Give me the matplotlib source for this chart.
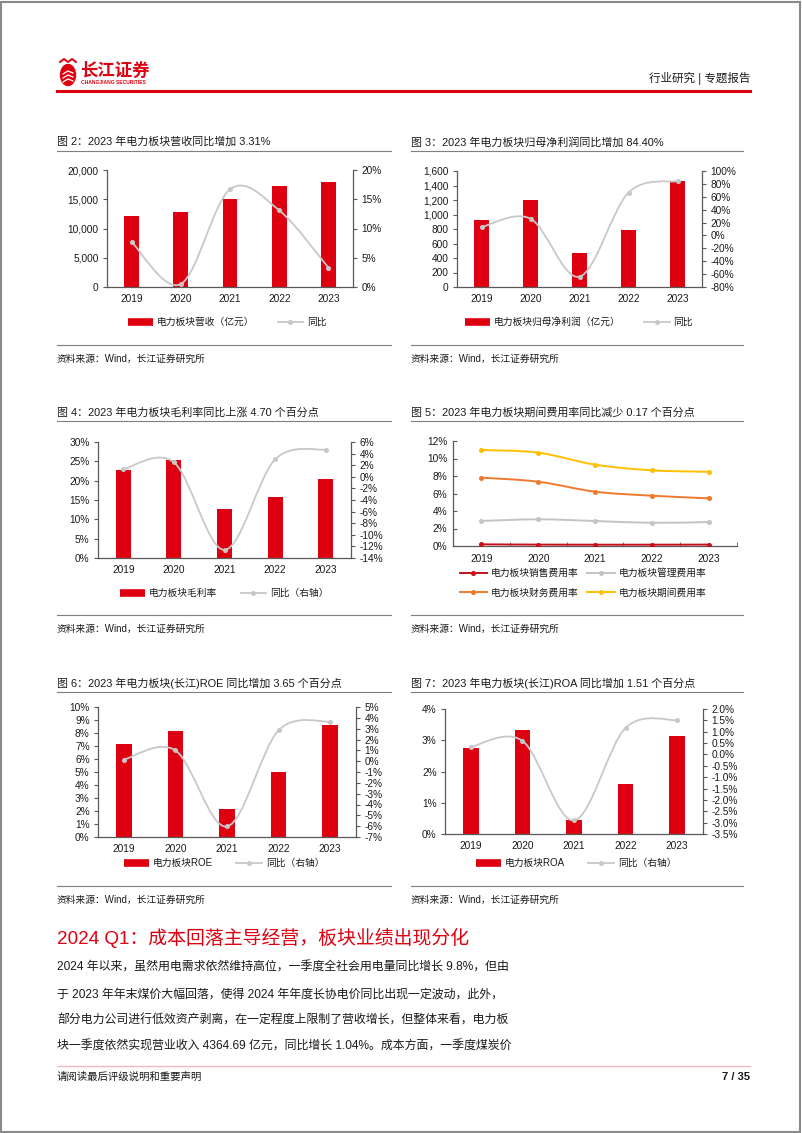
import numpy as np
import matplotlib
matplotlib.use('Agg')
import matplotlib.pyplot as plt
from matplotlib.path import Path
from matplotlib.patches import PathPatch, Rectangle, Ellipse
from matplotlib.lines import Line2D
from matplotlib.ticker import FuncFormatter, FixedLocator

plt.rcParams['font.family'] = ['Liberation Sans', 'Noto Sans CJK SC']
plt.rcParams['axes.unicode_minus'] = False

# ---------------- data ----------------
years = ['2019', '2020', '2021', '2022', '2023']

revenue = [12171, 12743, 15086, 17314, 17886]        # 亿元
revenue_yoy = [7.7, 0.5, 16.7, 13.1, 3.31]            # %

net_profit = [931, 1203, 475, 793, 1462]              # 亿元
net_profit_yoy = [13, 26, -64, 66.5, 84.4]            # %

gross_margin = [22.8, 25.3, 12.7, 15.7, 20.5]         # %
gross_margin_yoy = [1.3, 2.5, -12.6, 3.0, 4.7]        # pct

sell_rate = [0.19, 0.16, 0.15, 0.15, 0.16]
mgmt_rate = [2.86, 3.05, 2.86, 2.65, 2.74]
fin_rate = [7.81, 7.35, 6.21, 5.75, 5.45]
period_rate = [10.97, 10.67, 9.30, 8.65, 8.48]

roe = [7.18, 8.18, 2.15, 5.00, 8.64]
roe_yoy = [0.14, 1.00, -6.03, 2.85, 3.65]

roa = [2.74, 3.33, 0.44, 1.61, 3.13]
roa_yoy = [0.33, 0.60, -2.90, 1.17, 1.51]

RED = '#DE0010'
GRAY = '#C8C8C8'
AXC = '#595959'
TXT = '#1a1a1a'
TICK_FS = 7.3
LEG_FS = 7.0

W, H = 802, 1133
fig = plt.figure(figsize=(W / 100, H / 100), dpi=100)


def fx(x):
    return x / W


def fy(y):
    return 1 - y / H


def box(x0, y0, x1, y1):
    return [x0 / W, 1 - y1 / H, (x1 - x0) / W, (y1 - y0) / H]


def hline(x0, x1, y, color, lw):
    fig.add_artist(Line2D([fx(x0), fx(x1)], [fy(y), fy(y)],
                          transform=fig.transFigure, color=color, lw=lw))


def txt(x, y, s, **kw):
    kw.setdefault('color', TXT)
    fig.text(fx(x), fy(y), s, va='center', **kw)


def smooth(ax, y, color, lw=1.3, ms=2.6):
    # excel style smoothed line: bezier through the points
    x = np.arange(len(y))
    pts = np.column_stack([x, y]).astype(float)
    n = len(pts)
    verts = [pts[0]]
    codes = [Path.MOVETO]
    for i in range(n - 1):
        p0 = pts[i - 1] if i > 0 else pts[i]
        p3 = pts[i + 2] if i + 2 < n else pts[i + 1]
        verts += [pts[i] + (pts[i + 1] - p0) / 6,
                  pts[i + 1] - (p3 - pts[i]) / 6,
                  pts[i + 1]]
        codes += [Path.CURVE4] * 3
    ax.add_patch(PathPatch(Path(verts, codes), fill=False, edgecolor=color,
                           lw=lw, zorder=3, capstyle='round'))
    ax.plot(x, y, 'o', color=color, ms=ms, zorder=4)


def bar_chart(rect, vals, yoy, lim, ticks, fmt, lim2, ticks2, fmt2):
    ax = fig.add_axes(box(*rect))
    ax.bar(np.arange(5), vals, width=0.3, color=RED, zorder=2)
    ax.set_xlim(-0.5, 4.5)
    ax.set_ylim(*lim)
    ax.yaxis.set_major_locator(FixedLocator(ticks))
    ax.yaxis.set_major_formatter(FuncFormatter(fmt))
    ax.set_xticks(range(5))
    ax.set_xticklabels(years)
    ax2 = ax.twinx()
    ax2.set_ylim(*lim2)
    ax2.yaxis.set_major_locator(FixedLocator(ticks2))
    ax2.yaxis.set_major_formatter(FuncFormatter(fmt2))
    smooth(ax2, yoy, GRAY)
    for a in (ax, ax2):
        a.patch.set_visible(False)
        for s in a.spines.values():
            s.set_visible(False)
    ax.spines['left'].set_visible(True)
    ax.spines['bottom'].set_visible(True)
    ax2.spines['right'].set_visible(True)
    for s in (ax.spines['left'], ax.spines['bottom'], ax2.spines['right']):
        s.set_color(AXC)
        s.set_linewidth(0.9)
    ax.tick_params(axis='x', length=0, labelsize=TICK_FS, pad=5, labelcolor=TXT)
    ax.tick_params(axis='y', length=3, direction='out', color=AXC,
                   labelsize=TICK_FS, pad=3, labelcolor=TXT)
    ax2.tick_params(axis='y', length=3, direction='out', color=AXC,
                    labelsize=TICK_FS, pad=3, labelcolor=TXT)
    return ax


def bar_legend(x, y, label1, label2):
    h = [Line2D([], [], color=RED, lw=5.5, solid_capstyle='butt'),
         Line2D([], [], color=GRAY, lw=1.3, marker='o', ms=2.6)]
    fig.legend(h, [label1, label2], loc='center', bbox_to_anchor=(fx(x), fy(y)),
               ncol=2, frameon=False, fontsize=LEG_FS, handlelength=2.6,
               columnspacing=2.4, handletextpad=0.4, labelcolor=TXT)


def frame(x0, x1, ytitle, yline, ysrc_line, ysrc, title):
    txt(x0, ytitle, title, fontsize=7.9)
    hline(x0, x1, yline, '#7f7f7f', 0.8)
    hline(x0, x1, ysrc_line, '#7f7f7f', 0.8)
    txt(x0, ysrc, '资料来源：Wind，长江证券研究所', fontsize=7.0)


def pct0(v, p):
    return f'{v:.0f}%'


# ---------------- header ----------------
fig.add_artist(Rectangle((0.001, 0.001), 0.997, 0.997, transform=fig.transFigure,
                         fill=False, edgecolor='#8a8a8a', lw=1.5))
fig.add_artist(Ellipse((fx(68), fy(75)), 15 / W, 21 / H, transform=fig.transFigure,
                       color=RED))
for dy in (-4, 0, 4):
    fig.add_artist(Line2D([fx(63), fx(68), fx(73)], [fy(75 + dy + 3), fy(75 + dy), fy(75 + dy + 2)],
                          transform=fig.transFigure, color='white', lw=0.9))
fig.add_artist(Line2D([fx(60), fx(64), fx(68), fx(72), fx(76)],
                      [fy(62), fy(59), fy(62), fy(59), fy(62)],
                      transform=fig.transFigure, color=RED, lw=1.4))
txt(80, 70, '长江证券', fontsize=12.5, fontweight='bold', color=RED)
txt(81, 83, 'CHANGJIANG SECURITIES', fontsize=3.6, fontweight='bold', color=RED)
txt(750, 78, '行业研究 | 专题报告', fontsize=8.3, ha='right')
hline(57, 750, 91, RED, 2.2)

# ---------------- figure 2 ----------------
frame(57, 391, 142, 151, 345, 359, '图 2：2023 年电力板块营收同比增加 3.31%')
bar_chart((107, 170, 353, 287), revenue, revenue_yoy, (0, 20000),
          [0, 5000, 10000, 15000, 20000], lambda v, p: f'{v:,.0f}',
          (0, 20), [0, 5, 10, 15, 20], pct0)
bar_legend(227, 322, '电力板块营收（亿元）', '同比')

# ---------------- figure 3 ----------------
frame(411, 743, 142, 151, 345, 359, '图 3：2023 年电力板块归母净利润同比增加 84.40%')
bar_chart((457, 171, 702, 287), net_profit, net_profit_yoy, (0, 1600),
          list(range(0, 1601, 200)), lambda v, p: f'{v:,.0f}',
          (-80, 100), list(range(-80, 101, 20)), pct0)
bar_legend(579, 322, '电力板块归母净利润（亿元）', '同比')

# ---------------- figure 4 ----------------
frame(57, 391, 413, 421, 615, 629, '图 4：2023 年电力板块毛利率同比上涨 4.70 个百分点')
bar_chart((98, 442, 351, 558), gross_margin, gross_margin_yoy, (0, 30),
          list(range(0, 31, 5)), pct0,
          (-14, 6), list(range(-14, 7, 2)), pct0)
bar_legend(224, 593, '电力板块毛利率', '同比（右轴）')

# ---------------- figure 5 ----------------
frame(411, 743, 413, 421, 615, 629, '图 5：2023 年电力板块期间费用率同比减少 0.17 个百分点')
ax5 = fig.add_axes(box(453, 441, 737, 546))
c_sell, c_mgmt, c_fin, c_per = '#C8101C', '#C4C4C4', '#EE7A2E', '#FFC000'
for vals, c in ((mgmt_rate, c_mgmt), (fin_rate, c_fin), (period_rate, c_per), (sell_rate, c_sell)):
    smooth(ax5, vals, c, lw=1.4, ms=2.6)
ax5.set_xlim(-0.5, 4.5)
ax5.set_ylim(0, 12)
ax5.yaxis.set_major_locator(FixedLocator(list(range(0, 13, 2))))
ax5.yaxis.set_major_formatter(FuncFormatter(pct0))
ax5.set_xticks(range(5))
ax5.set_xticklabels(years)
ax5.set_xticks(np.arange(-0.5, 5, 1), minor=True)
for s in ('top', 'right'):
    ax5.spines[s].set_visible(False)
for s in ('left', 'bottom'):
    ax5.spines[s].set_color(AXC)
    ax5.spines[s].set_linewidth(0.9)
ax5.patch.set_visible(False)
ax5.tick_params(axis='x', which='major', length=0, labelsize=TICK_FS, pad=6, labelcolor=TXT)
ax5.tick_params(axis='x', which='minor', length=3, direction='in', color=AXC)
ax5.tick_params(axis='y', length=3, direction='in', color=AXC, labelsize=TICK_FS, pad=4,
                labelcolor=TXT)
h5 = [Line2D([], [], color=c, lw=1.4, marker='o', ms=2.6) for c in (c_sell, c_fin, c_mgmt, c_per)]
fig.legend(h5, ['电力板块销售费用率', '电力板块财务费用率', '电力板块管理费用率', '电力板块期间费用率'],
           loc='center', bbox_to_anchor=(fx(583), fy(583)), ncol=2, frameon=False,
           fontsize=LEG_FS, handlelength=2.8, columnspacing=0.9, handletextpad=0.4,
           labelspacing=1.0, labelcolor=TXT)

# ---------------- figure 6 ----------------
frame(57, 391, 683, 692, 886, 900, '图 6：2023 年电力板块(长江)ROE 同比增加 3.65 个百分点')
bar_chart((98, 707, 356, 837), roe, roe_yoy, (0, 10),
          list(range(0, 11)), pct0,
          (-7, 5), list(range(-7, 6)), pct0)
bar_legend(224, 863, '电力板块ROE', '同比（右轴）')

# ---------------- figure 7 ----------------
frame(411, 743, 683, 692, 886, 900, '图 7：2023 年电力板块(长江)ROA 同比增加 1.51 个百分点')
bar_chart((445, 709, 703, 834), roa, roa_yoy, (0, 4),
          list(range(0, 5)), pct0,
          (-3.5, 2.0), list(np.arange(-3.5, 2.01, 0.5)), lambda v, p: f'{v:.1f}%')
bar_legend(576, 863, '电力板块ROA', '同比（右轴）')

# ---------------- text body ----------------
txt(57, 938, '2024 Q1：成本回落主导经营，板块业绩出现分化', fontsize=13.6, color=RED)
body = [
    '2024 年以来，虽然用电需求依然维持高位，一季度全社会用电量同比增长 9.8%，但由',
    '于 2023 年年末煤价大幅回落，使得 2024 年年度长协电价同比出现一定波动，此外，',
    '部分电力公司进行低效资产剥离，在一定程度上限制了营收增长，但整体来看，电力板',
    '块一季度依然实现营业收入 4364.69 亿元，同比增长 1.04%。成本方面，一季度煤炭价',
]
for i, line in enumerate(body):
    txt(57, 968 + i * 26.3, line, fontsize=8.6)

hline(57, 750, 1066, '#F3B9BF', 1.0)
txt(57, 1077, '请阅读最后评级说明和重要声明', fontsize=7.5)
txt(750, 1077, '7 / 35', fontsize=8, fontweight='bold', ha='right')

fig.savefig('out.png', dpi=100)
